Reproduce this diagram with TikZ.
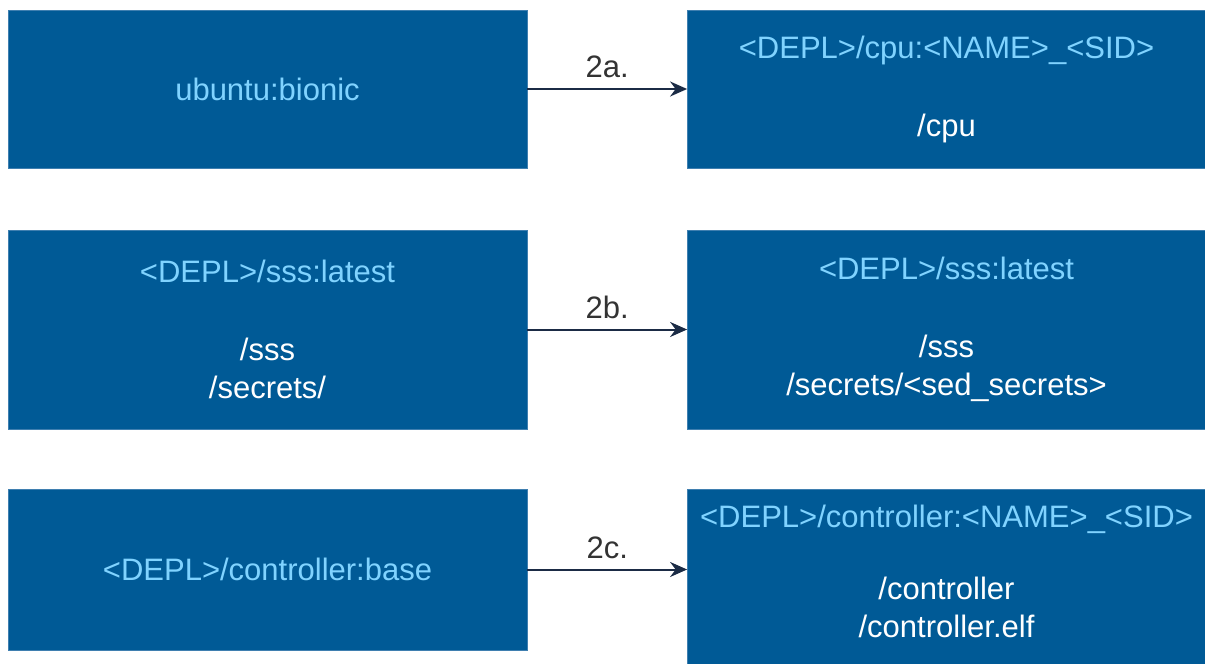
\documentclass[tikz,border=0pt]{standalone}
\usepackage{fontspec}
\setmainfont{Liberation Sans}
\usetikzlibrary{arrows.meta}
\definecolor{boxblue}{HTML}{005A96}
\definecolor{boxedge}{HTML}{3F7FB0}
\definecolor{lighttxt}{HTML}{80D3FF}
\definecolor{arrowc}{HTML}{1B2B45}
\definecolor{labelc}{HTML}{333333}
\tikzset{
  boxtxt/.style={inner sep=0pt, align=center, font=\fontsize{15.5}{19}\selectfont, text=white},
  box/.style={boxtxt, draw=boxedge, line width=0.4pt, fill=boxblue},
  flow/.style={draw=arrowc, line width=1pt, -{Stealth[length=8.5pt,width=7.5pt]}},
  steplabel/.style={font=\fontsize{15.5}{19}\selectfont, text=labelc, inner sep=0pt}
}
\newcommand{\lgt}[1]{\textcolor{lighttxt}{#1}}
\begin{document}
\begin{tikzpicture}[x=0.5pt,y=-0.5pt]
\useasboundingbox (0,0) rectangle (1205,664);
% left column
\node[box, minimum width=259.5pt, minimum height=79pt] (l1) at (267.5,89) {\lgt{ubuntu:bionic}};
\node[box, minimum width=259.5pt, minimum height=99.5pt] (l2) at (267.5,329.5)
  {\lgt{<DEPL>/sss:latest}\\[20pt]/sss\\/secrets/};
\node[box, minimum width=259.5pt, minimum height=80.5pt] (l3) at (267.5,569.5) {\lgt{<DEPL>/controller:base}};
% right column
\node[box, minimum width=259pt, minimum height=79pt] (r1) at (946.5,89)
  {\lgt{<DEPL>/cpu:<NAME>\_<SID>}\\[20pt]/cpu};
\node[box, minimum width=259pt, minimum height=99.5pt] (r2) at (946.5,329.5)
  {\lgt{<DEPL>/sss:latest}\\[20pt]/sss\\/secrets/<sed\_secrets>};
\node[box, minimum width=259pt, minimum height=89pt] (r3) at (946.5,578) {};
\node[boxtxt] (r3t) at (946.5,571)
  {\lgt{<DEPL>/controller:<NAME>\_<SID>}\\[17pt]/controller\\/controller.elf};
% arrows
\draw[flow] (l1.east) -- (r1.west) node[steplabel, pos=0.5, above=5pt] (a1) {2a.};
\draw[flow] (l2.east) -- (r2.west) node[steplabel, pos=0.5, above=5pt] (a2) {2b.};
\draw[flow] (l3.east) -- (l3.east -| r3.west) node[steplabel, pos=0.5, above=5pt] (a3) {2c.};
\end{tikzpicture}
\end{document}
